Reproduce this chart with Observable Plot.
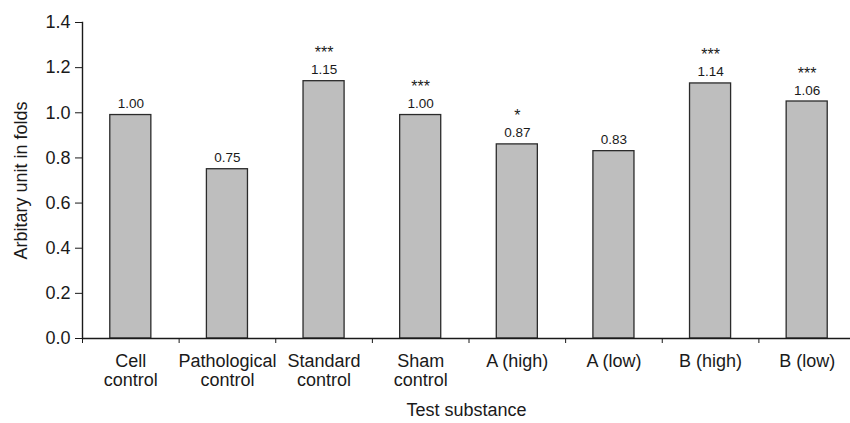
<!DOCTYPE html>
<html>
<head>
<meta charset="utf-8">
<script src="https://cdn.jsdelivr.net/npm/d3@7"></script>
<script src="https://cdn.jsdelivr.net/npm/@observablehq/plot@0.6"></script>
<style>
  html, body { margin: 0; padding: 0; background: #fff; }
  #chart { width: 850px; height: 423px; }
</style>
</head>
<body>
<div id="chart"></div>
<script>
const categories = ["Cell\ncontrol", "Pathological\ncontrol", "Standard\ncontrol", "Sham\ncontrol", "A (high)", "A (low)", "B (high)", "B (low)"];
const values = [0.99, 0.75, 1.14, 0.99, 0.86, 0.83, 1.13, 1.05];
const valueLabels = ["1.00", "0.75", "1.15", "1.00", "0.87", "0.83", "1.14", "1.06"];
const stars = ["", "", "***", "***", "*", "", "***", "***"];
const yTicks = [0, 0.2, 0.4, 0.6, 0.8, 1.0, 1.2, 1.4];
const xLabel = "Test substance";
const yLabel = "Arbitary unit in folds";

const data = categories.map((c, i) => ({cat: c, value: values[i], label: valueLabels[i], stars: stars[i]}));

const xRange = [82, 855];
const step = (xRange[1] - xRange[0]) / categories.length;
const ink = "#1a1a1a";

const chart = Plot.plot({
  width: 850,
  height: 423,
  marginLeft: 82,
  marginRight: 0,
  marginTop: 22,
  marginBottom: 85,
  style: {fontFamily: "'Liberation Sans', Arial, sans-serif", fontSize: "18px", color: ink, background: "#fff"},
  x: {domain: categories, range: xRange, paddingInner: 0.575, paddingOuter: 0.2875, round: false},
  y: {domain: [0, 1.4]},
  marks: [
    Plot.barY(data, {x: "cat", y: "value", fill: "#bebebe", stroke: "#2b2b2b", strokeWidth: 1.3}),
    Plot.frame({anchor: "left", stroke: ink, strokeWidth: 1.4}),
    Plot.ruleY([0], {stroke: ink, strokeWidth: 1.4}),
    Plot.axisY({ticks: yTicks, tickSize: 7, tickPadding: 5, tickFormat: d3.format(".1f"), fontSize: 18,
      label: yLabel, labelAnchor: "center", labelArrow: "none", labelOffset: 68, stroke: ink}),
    Plot.axisX({tickSize: 5, dx: -step / 2, tickFormat: () => "", label: null, stroke: ink}),
    Plot.axisX({tickSize: 0, tickPadding: 15, lineHeight: 1.06, fontSize: 18,
      label: xLabel, labelAnchor: "center", labelArrow: "none", labelOffset: 77}),
    Plot.text(data, {x: "cat", y: "value", text: "label", dy: -7, lineAnchor: "bottom", fontSize: 13.5, fill: ink}),
    Plot.text(data, {x: "cat", y: "value", text: "stars", dy: -23, lineAnchor: "bottom", fontSize: 16, fill: ink})
  ]
});
document.getElementById("chart").appendChild(chart);
</script>
</body>
</html>
